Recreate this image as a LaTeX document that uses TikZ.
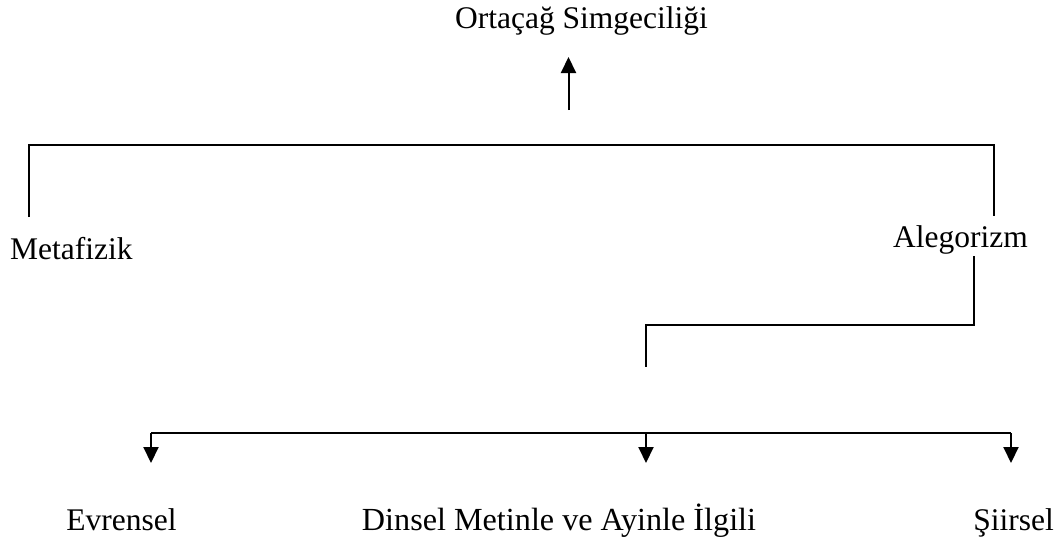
\documentclass[tikz,border=0pt]{standalone}
\usepackage{fontspec}
\setmainfont{Liberation Serif}
\usetikzlibrary{arrows.meta}
\begin{document}
\begin{tikzpicture}[x=1pt,y=-1pt,
  lbl/.style={inner sep=0pt,font=\fontsize{31.5}{36}\selectfont},
  conn/.style={line width=2pt},
  arr/.style={conn,-{Triangle[width=15pt,length=16pt]}}]
\useasboundingbox (0,0) rectangle (1058,541);
% texts
\node[lbl,anchor=base] (title) at (581.5,28) {Ortaçağ Simgeciliği};
\node[lbl,anchor=base west] (meta) at (10,259) {Metafizik};
\node[lbl,anchor=base west] (aleg) at (893,247) {Alegorizm};
\node[lbl,anchor=base] (evr) at (121.5,530) {Evrensel};
\node[lbl,anchor=base] (din) at (559,530) {\fontsize{32.2}{36}\selectfont Dinsel Metinle ve Ayinle İlgili};
\node[lbl,anchor=base] (sii) at (1013.5,530) {Şiirsel};
% coordinates
\coordinate (upT) at (568.5,110);
\coordinate (upH) at (568.5,57);
\coordinate (mL) at (29,217);
\coordinate (tL) at (29,145);
\coordinate (tR) at (994,145);
\coordinate (aR) at (994,216);
\coordinate (aB) at (974,256);
\coordinate (aC) at (974,325);
\coordinate (dC) at (646,325);
\coordinate (dB) at (646,367);
\coordinate (hL) at (151,433);
\coordinate (hM) at (646,433);
\coordinate (hR) at (1011,433);
\coordinate (eT) at (151,463);
\coordinate (mT) at (646,463);
\coordinate (sT) at (1011,463);
% connectors
\draw[arr] (upT) -- (upH);
\draw[conn] (mL) -- (tL) -- (tR) -- (aR);
\draw[conn] (aB) -- (aC) -- (dC) -- (dB);
\draw[conn] (hL) -- (hR);
\draw[arr] (hL) -- (eT);
\draw[arr] (hM) -- (mT);
\draw[arr] (hR) -- (sT);
\end{tikzpicture}
\end{document}
